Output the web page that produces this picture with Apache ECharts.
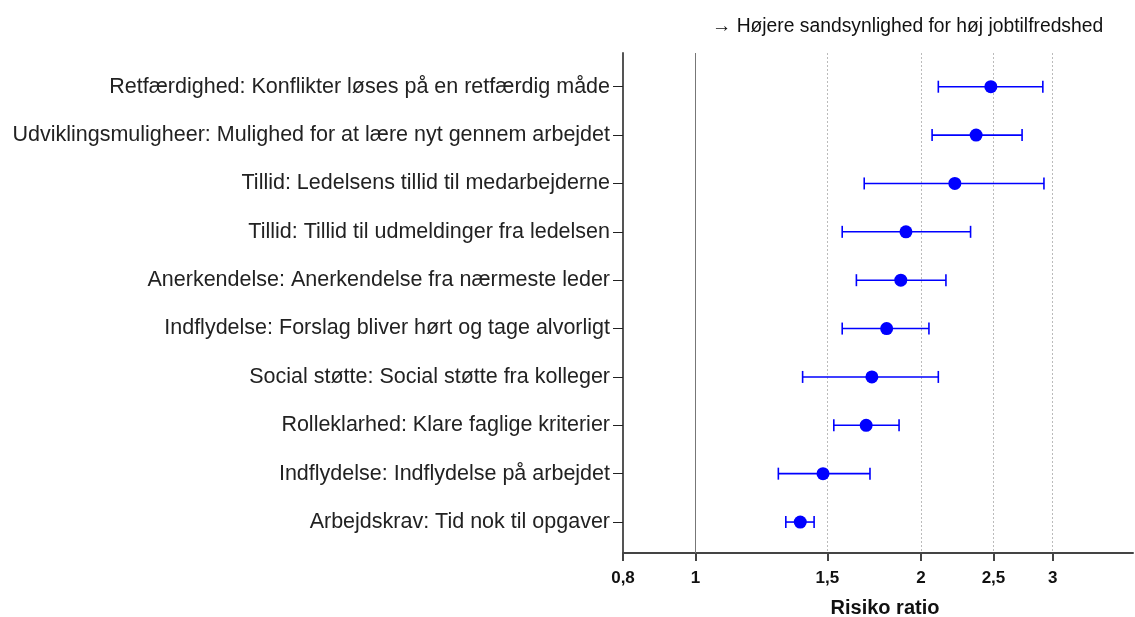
<!DOCTYPE html>
<html>
<head>
<meta charset="utf-8">
<script src="https://cdn.jsdelivr.net/npm/echarts@6/dist/echarts.min.js"></script>
<style>
  html, body { margin: 0; padding: 0; background: #fff; }
  #chart { width: 1135px; height: 617px; }
</style>
</head>
<body>
<div id="chart"></div>
<script>
  // kategorier, øverst først
  const categories = [
    'Retfærdighed: Konflikter løses på en retfærdig måde',
    'Udviklingsmuligheer: Mulighed for at lære nyt gennem arbejdet',
    'Tillid: Ledelsens tillid til medarbejderne',
    'Tillid: Tillid til udmeldinger fra ledelsen',
    'Anerkendelse: Anerkendelse fra nærmeste leder',
    'Indflydelse: Forslag bliver hørt og tage alvorligt',
    'Social støtte: Social støtte fra kolleger',
    'Rolleklarhed: Klare faglige kriterier',
    'Indflydelse: Indflydelse på arbejdet',
    'Arbejdskrav: Tid nok til opgaver'
  ];
  const estimate = [2.48, 2.37, 2.22, 1.91, 1.88, 1.80, 1.72, 1.69, 1.48, 1.38];
  const lower    = [2.11, 2.07, 1.68, 1.57, 1.64, 1.57, 1.39, 1.53, 1.29, 1.32];
  const upper    = [2.91, 2.73, 2.92, 2.33, 2.16, 2.05, 2.11, 1.87, 1.71, 1.44];
  const xTicks = [0.8, 1, 1.5, 2, 2.5, 3];
  const dottedLines = [1.5, 2, 2.5, 3];

  const blue = '#0000ff';
  const chart = echarts.init(document.getElementById('chart'));

  const pointData = estimate.map((v, i) => [v, i]);
  const barData = lower.map((v, i) => [v, upper[i], i]);
  const catIdx = categories.map((c, i) => i);

  const refLines = [{ xAxis: 1, lineStyle: { type: 'solid', color: '#777', width: 1 } }]
    .concat(dottedLines.map(v => ({ xAxis: v, lineStyle: { type: [2, 2], color: '#bbb', width: 1 } })));

  const option = {
    backgroundColor: '#fff',
    animation: false,
    title: {
      text: '→ Højere sandsynlighed for høj jobtilfredshed',
      left: 707,
      top: 12,
      textStyle: { fontFamily: 'Liberation Sans, Arial', fontSize: 19.3, fontWeight: 'normal', color: '#111' }
    },
    grid: { left: 623, right: 2, top: 53, bottom: 64, outerBoundsMode: 'none', containLabel: false },
    xAxis: {
      type: 'log',
      min: 0.8,
      max: 3.84,
      name: 'Risiko ratio',
      nameLocation: 'middle',
      nameGap: 45,
      nameTextStyle: { fontFamily: 'Liberation Sans, Arial', fontSize: 20, fontWeight: 'bold', color: '#111', padding: [0, 0, 0, 14] },
      axisLine: { onZero: false, lineStyle: { color: '#444', width: 2 } },
      axisTick: { customValues: xTicks, length: 8, lineStyle: { color: '#444', width: 2 } },
      axisLabel: {
        customValues: xTicks,
        margin: 17,
        fontFamily: 'Liberation Sans, Arial',
        fontSize: 17,
        fontWeight: 'bold',
        color: '#111',
        formatter: v => String(+v.toFixed(2)).replace('.', ',')
      },
      splitLine: { show: false }
    },
    yAxis: {
      type: 'value',
      inverse: true,
      min: -0.697,
      max: 9.64,
      axisLine: { show: true, onZero: false, lineStyle: { color: '#555', width: 2 } },
      axisTick: { show: true, customValues: catIdx, length: 10, lineStyle: { color: '#222', width: 1 } },
      axisLabel: {
        customValues: catIdx,
        margin: 13,
        fontFamily: 'Liberation Sans, Arial',
        fontSize: 21.5,
        color: '#222',
        formatter: v => categories[Math.round(v)] || ''
      },
      splitLine: { show: false }
    },
    series: [
      {
        type: 'custom',
        name: 'ci',
        silent: true,
        renderItem: function (params, api) {
          const y = api.value(2);
          const a = api.coord([api.value(0), y]);
          const b = api.coord([api.value(1), y]);
          const h = 6;
          const style = { stroke: blue, lineWidth: 1.6 };
          return {
            type: 'group',
            children: [
              { type: 'line', shape: { x1: a[0], y1: a[1], x2: b[0], y2: b[1] }, style: style },
              { type: 'line', shape: { x1: a[0], y1: a[1] - h, x2: a[0], y2: a[1] + h }, style: style },
              { type: 'line', shape: { x1: b[0], y1: b[1] - h, x2: b[0], y2: b[1] + h }, style: style }
            ]
          };
        },
        encode: { x: [0, 1], y: 2 },
        data: barData,
        z: 3
      },
      {
        type: 'scatter',
        name: 'estimat',
        symbol: 'circle',
        symbolSize: 13,
        itemStyle: { color: blue, opacity: 1 },
        data: pointData,
        z: 4,
        markLine: {
          silent: true,
          symbol: 'none',
          label: { show: false },
          data: refLines,
          z: 1
        }
      }
    ]
  };

  chart.setOption(option);
</script>
</body>
</html>
